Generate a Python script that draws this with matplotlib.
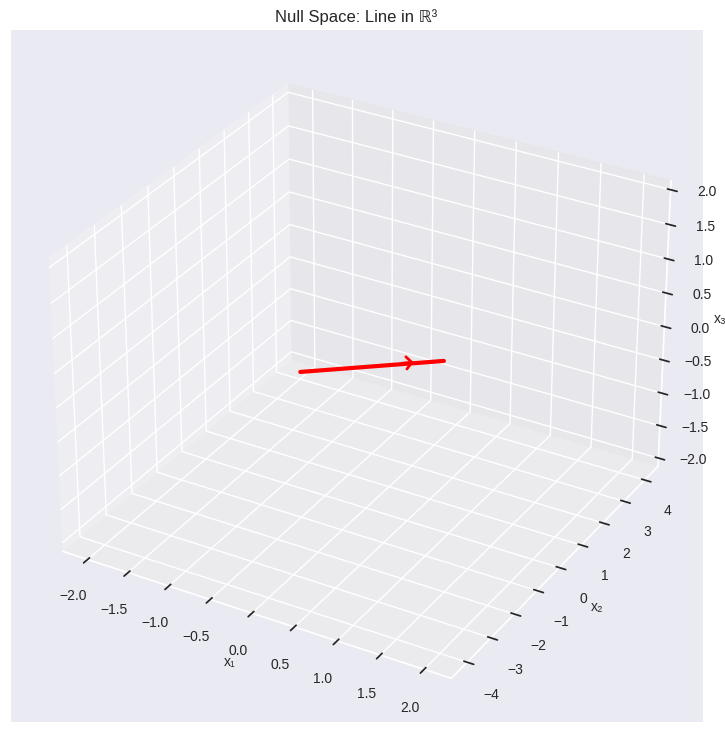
import numpy as np
import matplotlib
matplotlib.use("Agg")
import matplotlib.pyplot as plt
import seaborn as sns
from mpl_toolkits.mplot3d import proj3d

sns.set_theme(style="darkgrid")
plt.rcParams['font.family'] = ['Liberation Sans', 'DejaVu Sans']

title = "Null Space: Line in ℝ³"
xlabel, ylabel, zlabel = "x₁", "x₂", "x₃"
line_x = [-0.54, 0.65]
line_y = [-0.85, 1.0]
line_z = [-0.01, 0.01]
arrow_tail = [0.29, 0.5, 0.0]
arrow_tip = [0.386, 0.66, 0.0]
x_limits = [-2.31, 2.31]
y_limits = [-4.65, 4.65]
z_limits = [-2.13, 2.13]
x_ticks = [-2.0, -1.5, -1.0, -0.5, 0.0, 0.5, 1.0, 1.5, 2.0]
y_ticks = [-4, -3, -2, -1, 0, 1, 2, 3, 4]
z_ticks = [-2.0, -1.5, -1.0, -0.5, 0.0, 0.5, 1.0, 1.5, 2.0]

W, H = 725, 733
fig = plt.figure(figsize=(W/100, H/100), dpi=100)
ax = fig.add_axes([10/W, 11/H, 693/W, 692/H], projection='3d')
ax.plot(line_x, line_y, line_z, color='red', linewidth=3)
ax.set_xlim(x_limits); ax.set_ylim(y_limits); ax.set_zlim(z_limits)
ax.set_xticks(x_ticks); ax.set_yticks(y_ticks); ax.set_zticks(z_ticks)
ax.tick_params(labelsize=10, pad=7.8)
ax.set_xlabel(xlabel, fontsize=10); ax.set_ylabel(ylabel, fontsize=10); ax.set_zlabel(zlabel, fontsize=10)
ax.set_title(title, fontsize=12)
ax.patch.set_clip_on(False)
proj = ax.get_proj()
tx, ty, _ = proj3d.proj_transform(*arrow_tail, proj)
hx, hy, _ = proj3d.proj_transform(*arrow_tip, proj)
ax.annotate("", xy=(hx, hy), xytext=(tx, ty), xycoords='data', textcoords='data',
            arrowprops=dict(arrowstyle='->,head_length=0.2,head_width=0.22', color='red', lw=2,
                            mutation_scale=20, shrinkA=0, shrinkB=0))
fig.savefig("out.png", dpi=100)
